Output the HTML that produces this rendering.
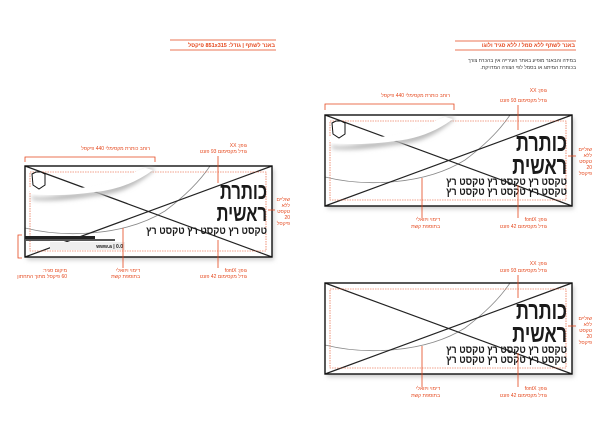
<!DOCTYPE html>
<html><head><meta charset="utf-8"><style>
html,body{margin:0;padding:0;background:#fff;}
svg{display:block;}
.r{fill:#e5461b;font-family:"Liberation Sans",sans-serif;font-size:5px;}
.rb{fill:#e5461b;font-family:"Liberation Sans",sans-serif;font-size:5.5px;font-weight:bold;}
.t{font-family:"Liberation Sans Narrow","Liberation Sans",sans-serif;font-weight:bold;fill:#1a1a1a;}
</style></head><body>
<svg width="600" height="424" viewBox="0 0 600 424" xmlns="http://www.w3.org/2000/svg">
<defs>
<filter id="sh" x="-10%" y="-10%" width="130%" height="140%"><feGaussianBlur stdDeviation="2"/></filter>
<g id="frame">
  <rect x="2" y="3" width="247" height="91" fill="#ccc" filter="url(#sh)"/>
  <rect x="0" y="0" width="247" height="91" fill="#fff"/>
  <path d="M0,62 C40,72 100,70 140,45 C160,30 175,15 185,0" fill="none" stroke="#888" stroke-width="0.8"/>
  <line x1="0" y1="91" x2="247" y2="0" stroke="#222" stroke-width="1.2"/>
  <line x1="0" y1="0" x2="247" y2="91" stroke="#222" stroke-width="1.2"/>
  <rect x="5" y="6" width="236" height="79" fill="none" stroke="#e5461b" stroke-width="0.6" stroke-dasharray="1.5,1"/>
  <rect x="0" y="0" width="247" height="91" fill="none" stroke="#111" stroke-width="1.4"/>
</g>
<g id="cloud">
  <path d="M6,30 C20,34 40,26 60,26 C80,24 95,18 110,10 L118,5 C120,2 126,1 130,3 L125,8 C110,20 95,28 70,30 C50,33 30,36 8,34 Z" fill="#bbb" filter="url(#sh)"/>
  <path d="M2,20 C15,26 35,22 55,22 C75,20 92,15 105,8 L120,2 L128,4 C112,16 92,24 70,26 C50,29 28,30 6,28 Z" fill="#fff"/>
  <path d="M7,8 L11,6 L16,6 L20,8 L20,19 L14,23 L8,19 Z" fill="#fff" stroke="#111" stroke-width="1"/>
</g>
<g id="txt2">
  <g transform="translate(242,36) scale(0.72,1)"><text class="t" x="0" y="0" text-anchor="start" font-size="25" direction="rtl">כותרת</text></g>
  <g transform="translate(242,59) scale(0.72,1)"><text class="t" x="0" y="0" text-anchor="start" font-size="25" direction="rtl">ראשית</text></g>
  <g transform="translate(242,70) scale(0.85,1)"><text class="t" x="0" y="0" text-anchor="start" font-size="11" direction="rtl">טקסט רץ טקסט רץ טקסט רץ</text></g>
  <g transform="translate(242,80) scale(0.85,1)"><text class="t" x="0" y="0" text-anchor="start" font-size="11" direction="rtl">טקסט רץ טקסט רץ טקסט רץ</text></g>
</g>
</defs>

<!-- top titles -->
<line x1="170" y1="40" x2="276" y2="40" stroke="#e5461b" stroke-width="0.8"/>
<line x1="170" y1="50" x2="276" y2="50" stroke="#e5461b" stroke-width="0.8"/>
<text class="rb" x="275" y="47" text-anchor="start" direction="rtl">באנר לשתף | גודל: 851x315 פיקסל</text>
<line x1="455" y1="41" x2="576" y2="41" stroke="#e5461b" stroke-width="0.8"/>
<line x1="455" y1="50" x2="576" y2="50" stroke="#e5461b" stroke-width="0.8"/>
<text class="rb" x="575" y="47" text-anchor="start" direction="rtl">באנר לשתף ללא סמל / ללא סגיד ולוגו</text>
<text x="576" y="62" text-anchor="start" direction="rtl" style="font-family:'Liberation Sans',sans-serif;font-size:5px;fill:#333">במידה והבאנר מופיע באתר העירייה אין בהכרח צורך</text>
<text x="576" y="69" text-anchor="start" direction="rtl" style="font-family:'Liberation Sans',sans-serif;font-size:5px;fill:#333">בכותרת המיתוג או בסמל לפי הצורה המדויקת.</text>

<!-- LEFT banner -->
<g transform="translate(25,166)">
  <use href="#frame"/>
  <use href="#cloud"/>
  <rect x="0" y="70" width="70" height="3" fill="#222"/>
  <rect x="0" y="73" width="90" height="2" fill="#555"/>
  <rect x="25" y="76" width="75" height="8" fill="#eee"/>
  <text x="98" y="82" text-anchor="end" style="font-family:'Liberation Sans',sans-serif;font-size:5px;font-weight:bold;fill:#222">www.a | 0.0</text>
  <g transform="translate(242,33) scale(0.72,1)"><text class="t" x="0" y="0" text-anchor="start" font-size="23" direction="rtl">כותרת</text></g>
  <g transform="translate(242,55) scale(0.72,1)"><text class="t" x="0" y="0" text-anchor="start" font-size="23" direction="rtl">ראשית</text></g>
  <g transform="translate(242,68) scale(0.85,1)"><text class="t" x="0" y="0" text-anchor="start" font-size="11" direction="rtl">טקסט רץ טקסט רץ טקסט רץ</text></g>
</g>
<!-- left annotations -->
<path d="M25,162 V157 H155 V162" fill="none" stroke="#e5461b" stroke-width="0.8"/>
<text class="r" x="150" y="150" text-anchor="start" direction="rtl">רוחב כותרת מקסימלי 440 פיקסל</text>
<text class="r" x="247" y="147" text-anchor="start" direction="rtl">גופן: XX</text>
<text class="r" x="247" y="153" text-anchor="start" direction="rtl">גודל מקסימום 93 פונט</text>
<line x1="218" y1="156" x2="218" y2="183" stroke="#e5461b" stroke-width="0.8"/>
<line x1="218" y1="240" x2="218" y2="268" stroke="#e5461b" stroke-width="0.8"/>
<text class="r" x="247" y="272" text-anchor="start" direction="rtl">גופן: fontX</text>
<text class="r" x="247" y="278" text-anchor="start" direction="rtl">גודל מקסימום 42 פונט</text>
<line x1="123" y1="228" x2="123" y2="268" stroke="#e5461b" stroke-width="0.8"/>
<text class="r" x="140" y="272" text-anchor="start" direction="rtl">דימוי ויזואלי</text>
<text class="r" x="140" y="278" text-anchor="start" direction="rtl">בתוספת קשת</text>
<path d="M22,235 H18 V258 H22" fill="none" stroke="#e5461b" stroke-width="0.8"/>
<text class="r" x="67" y="272" text-anchor="start" direction="rtl">מיקום סגיר:</text>
<text class="r" x="67" y="278" text-anchor="start" direction="rtl">60 פיקסל מתוך התחתון</text>
<line x1="268" y1="210" x2="275" y2="210" stroke="#e5461b" stroke-width="0.8"/>
<text class="r" x="290" y="201" text-anchor="end">שוליים</text>
<text class="r" x="290" y="207" text-anchor="end">ללא</text>
<text class="r" x="290" y="213" text-anchor="end">טקסט</text>
<text class="r" x="290" y="219" text-anchor="end">20</text>
<text class="r" x="290" y="225" text-anchor="end">פיקסל</text>

<!-- RIGHT TOP banner -->
<g transform="translate(325,115)">
  <use href="#frame"/>
  <use href="#cloud"/>
  <use href="#txt2"/>
</g>
<path d="M325,110 V104 H454 V110" fill="none" stroke="#e5461b" stroke-width="0.8"/>
<text class="r" x="450" y="97" text-anchor="start" direction="rtl">רוחב כותרת מקסימלי 440 פיקסל</text>
<text class="r" x="547" y="92" text-anchor="start" direction="rtl">גופן: XX</text>
<text class="r" x="547" y="102" text-anchor="start" direction="rtl">גודל מקסימום 93 פונט</text>
<line x1="518" y1="105" x2="518" y2="130" stroke="#e5461b" stroke-width="0.8"/>
<line x1="422" y1="178" x2="422" y2="218" stroke="#e5461b" stroke-width="0.8"/>
<line x1="518" y1="185" x2="518" y2="218" stroke="#e5461b" stroke-width="0.8"/>
<text class="r" x="440" y="221" text-anchor="start" direction="rtl">דימוי ויזואלי</text>
<text class="r" x="440" y="228" text-anchor="start" direction="rtl">בתוספת קשת</text>
<text class="r" x="547" y="221" text-anchor="start" direction="rtl">גופן: fontX</text>
<text class="r" x="547" y="228" text-anchor="start" direction="rtl">גודל מקסימום 42 פונט</text>
<line x1="568" y1="156" x2="576" y2="156" stroke="#e5461b" stroke-width="0.8"/>
<text class="r" x="592" y="151" text-anchor="end">שוליים</text>
<text class="r" x="592" y="157" text-anchor="end">ללא</text>
<text class="r" x="592" y="163" text-anchor="end">טקסט</text>
<text class="r" x="592" y="169" text-anchor="end">20</text>
<text class="r" x="592" y="175" text-anchor="end">פיקסל</text>

<!-- RIGHT BOTTOM banner -->
<g transform="translate(325,283)">
  <use href="#frame"/>
  <use href="#txt2"/>
</g>
<text class="r" x="547" y="265" text-anchor="start" direction="rtl">גופן: XX</text>
<text class="r" x="547" y="272" text-anchor="start" direction="rtl">גודל מקסימום 93 פונט</text>
<line x1="518" y1="275" x2="518" y2="298" stroke="#e5461b" stroke-width="0.8"/>
<line x1="422" y1="346" x2="422" y2="387" stroke="#e5461b" stroke-width="0.8"/>
<line x1="518" y1="353" x2="518" y2="387" stroke="#e5461b" stroke-width="0.8"/>
<text class="r" x="440" y="390" text-anchor="start" direction="rtl">דימוי ויזואלי</text>
<text class="r" x="440" y="397" text-anchor="start" direction="rtl">בתוספת קשת</text>
<text class="r" x="547" y="390" text-anchor="start" direction="rtl">גופן: fontX</text>
<text class="r" x="547" y="397" text-anchor="start" direction="rtl">גודל מקסימום 42 פונט</text>
<line x1="568" y1="326" x2="576" y2="326" stroke="#e5461b" stroke-width="0.8"/>
<text class="r" x="592" y="320" text-anchor="end">שוליים</text>
<text class="r" x="592" y="326" text-anchor="end">ללא</text>
<text class="r" x="592" y="332" text-anchor="end">טקסט</text>
<text class="r" x="592" y="338" text-anchor="end">20</text>
<text class="r" x="592" y="344" text-anchor="end">פיקסל</text>
</svg>
</body></html>
